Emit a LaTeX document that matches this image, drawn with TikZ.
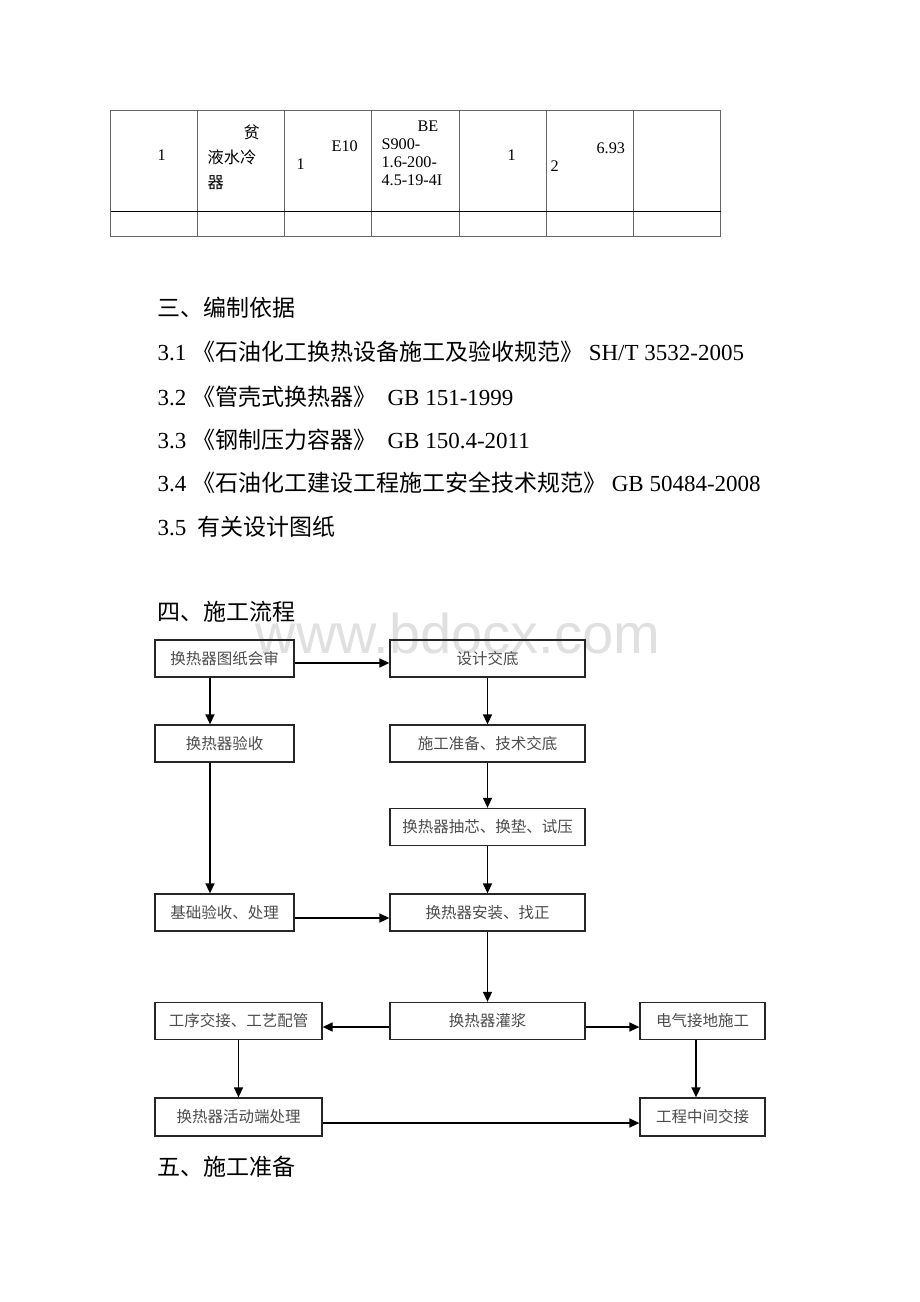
\documentclass[tikz,border=0pt]{standalone}
\usepackage{fontspec}
\setmainfont{Liberation Serif}
\newfontfamily\cjk{Noto Sans CJK SC}
\newfontfamily\wmfont{Liberation Sans}
\usetikzlibrary{arrows.meta}
\newcommand{\bodyfont}{\fontsize{23}{27}\selectfont}
\newcommand{\cellfont}{\fontsize{16.2}{18}\selectfont}
\newcommand{\boxfont}{\fontsize{15.5}{18}\selectfont\cjk}

\begin{document}
\begin{tikzpicture}[x=1pt, y=-1pt, line width=1.2pt,
    every node/.append style={inner sep=0pt},
    flow/.style={-{Triangle[length=10pt,width=9pt]}, line width=1.5pt}]
  \tikzstyle{box} = [draw=black!85, line width=1.3pt, minimum height=37pt, font=\boxfont, text=black!70]
  \tikzstyle{line} = [anchor=west, font=\bodyfont]
  \tikzstyle{cell} = [anchor=north west, align=left, font=\cellfont]
  \useasboundingbox (0,0) rectangle (920,1302);
  % table
  \draw[black!60, line width=1pt] (110.5,110.5) rectangle (720.5,236.5);
  \foreach \x in {197.5,284.5,371.5,459.5,546.5,633.5}
    \draw[black!60, line width=1pt] (\x,110.5) -- (\x,236.5);
  \draw[line width=1pt] (110.5,211.5) -- (720.5,211.5);
  \node[anchor=west, font=\cellfont] (no) at (157,155) {1};
  \node[cell, font=\fontsize{16.2}{25}\selectfont\cjk] (name) at (207,124) {\hspace*{36pt}贫\\液水冷\\器};
  \node[cell] (tag) at (296,140.5) {\hspace*{35pt}E10\\1};
  \node[cell] (model) at (381,120) {\hspace*{36pt}BE\\S900-\\1.6-200-\\4.5-19-4I};
  \node[anchor=west, font=\cellfont] (qty) at (507,155) {1};
  \node[cell] (weight) at (550,142.5) {\hspace*{46pt}6.93\\2};
  % text
  \node[line] (basis) at (157,308) {\cjk 三、编制依据};
  \node[line] (ref1) at (157,352) {3.1 {\cjk 《石油化工换热设备施工及验收规范》} SH/T 3532-2005};
  \node[line] (ref2) at (157,397) {3.2 {\cjk 《管壳式换热器》}\ \ GB 151-1999};
  \node[line] (ref3) at (157,440) {3.3 {\cjk 《钢制压力容器》}\ \ GB 150.4-2011};
  \node[line] (ref4) at (157,483) {3.4 {\cjk 《石油化工建设工程施工安全技术规范》} GB 50484-2008};
  \node[line] (ref5) at (157,527) {3.5\ \ {\cjk 有关设计图纸}};
  \node[line] (flowhd) at (157,612) {\cjk 四、施工流程};
  \node[line] (prephd) at (157,1167) {\cjk 五、施工准备};
  \node[anchor=base west, font=\wmfont\fontsize{56}{60}\selectfont, text=black!12] (wm) at (255,653) {www.bdocx.com};
  % flow chart
  \node[box, minimum width=139pt] (review) at (224.5,658.5) {换热器图纸会审};
  \node[box, minimum width=195pt] (disclose) at (487.5,658.5) {设计交底};
  \node[box, minimum width=139pt] (accept) at (224.5,743.5) {换热器验收};
  \node[box, minimum width=195pt] (prepare) at (487.5,743.5) {施工准备、技术交底};
  \node[box, minimum width=195pt] (pressure) at (487.5,827) {换热器抽芯、换垫、试压};
  \node[box, minimum width=139pt] (found) at (224.5,912.5) {基础验收、处理};
  \node[box, minimum width=195pt] (install) at (487.5,912.5) {换热器安装、找正};
  \node[box, minimum width=167pt] (piping) at (238.5,1021) {工序交接、工艺配管};
  \node[box, minimum width=195pt] (grout) at (487.5,1021) {换热器灌浆};
  \node[box, minimum width=125pt] (earth) at (702.5,1021) {电气接地施工};
  \node[box, minimum width=167pt, minimum height=38pt] (movable) at (238.5,1117) {换热器活动端处理};
  \node[box, minimum width=125pt, minimum height=38pt] (handover) at (702.5,1117) {工程中间交接};
  \draw[flow] ([yshift=-4.5pt]review.east) -- ([yshift=-4.5pt]disclose.west);
  \draw[flow] ([xshift=-14.5pt]review.south) -- ([xshift=-14.5pt]accept.north);
  \draw[flow] (disclose.south) -- (prepare.north);
  \draw[flow] (prepare.south) -- (pressure.north);
  \draw[flow] ([xshift=-14.5pt]accept.south) -- ([xshift=-14.5pt]found.north);
  \draw[flow] (pressure.south) -- (install.north);
  \draw[flow] ([yshift=-5.5pt]found.east) -- ([yshift=-5.5pt]install.west);
  \draw[flow] (install.south) -- (grout.north);
  \draw[flow] ([yshift=-6pt]grout.west) -- ([yshift=-6pt]piping.east);
  \draw[flow] ([yshift=-6pt]grout.east) -- ([yshift=-6pt]earth.west);
  \draw[flow] (piping.south) -- (movable.north);
  \draw[flow] ([xshift=-6.5pt]earth.south) -- ([xshift=-6.5pt]handover.north);
  \draw[flow] ([yshift=-6pt]movable.east) -- ([yshift=-6pt]handover.west);
\end{tikzpicture}
\end{document}
